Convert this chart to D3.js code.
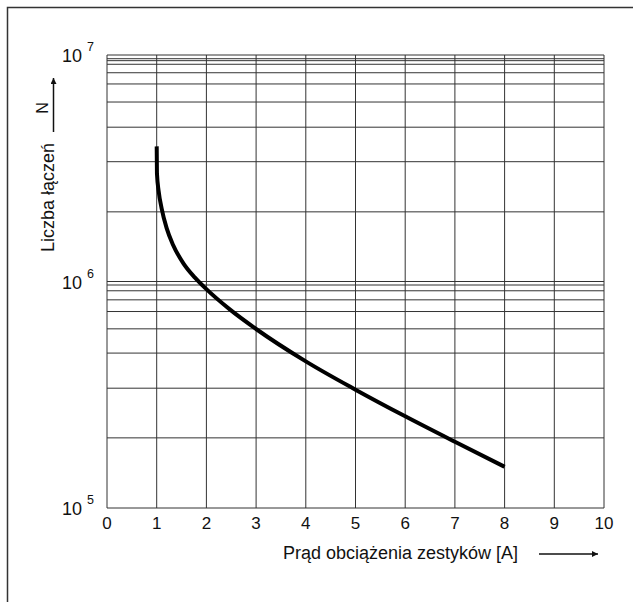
<!DOCTYPE html>
<html>
<head>
<meta charset="utf-8">
<script src="https://cdn.jsdelivr.net/npm/d3@7"></script>
<style>
  body { margin: 0; background: #fff; }
  text { font-family: Arial, "Liberation Sans", sans-serif; fill: #111; }
</style>
</head>
<body>
<script>
// ----- data -----
const currentA = [1.0, 1.005, 1.04, 1.1, 1.2, 1.33, 1.54, 1.77, 2.0, 2.47, 3, 4, 5, 6, 7, 8];
const cycles = [3.95e6, 3.0e6, 2.5e6, 2.1e6, 1.72e6, 1.45e6, 1.2e6, 1.04e6, 9.25e5, 7.53e5, 6.17e5, 4.44e5, 3.33e5, 2.54e5, 1.96e5, 1.52e5];

const xTicks = [0, 1, 2, 3, 4, 5, 6, 7, 8, 9, 10];
// horizontal rulings of the (irregular) log paper
const yGrid = [1e7, 9.63e6, 9.44e6, 9.1e6, 8.35e6, 7.45e6, 6.2e6, 4.8e6, 3.38e6, 2.03e6,
               1e6, 9.65e5, 9.1e5, 8.3e5, 7.37e5, 6.18e5, 4.83e5, 3.38e5, 2.04e5, 1e5];
const decades = [1e7, 1e6, 1e5];
const decadeExp = ['7', '6', '5'];

const xTitle = 'Prąd obciążenia zestyków [A]';
const yTitle = 'Liczba łączeń';
const yUnit = 'N';

// ----- svg -----
const W = 633, H = 602;
const svg = d3.select('body')
  .append('svg')
  .attr('width', W)
  .attr('height', H);

svg.append('defs').append('marker')
  .attr('id', 'arr')
  .attr('viewBox', '0 0 10 10')
  .attr('refX', 10).attr('refY', 5)
  .attr('markerWidth', 8).attr('markerHeight', 6)
  .attr('markerUnits', 'userSpaceOnUse')
  .attr('orient', 'auto')
  .append('path')
  .attr('d', 'M0,0 L10,5 L0,10 z')
  .attr('fill', '#111');

// outer frame (left + top only)
svg.append('path')
  .attr('d', 'M7.5,602 V7.5 H633')
  .attr('fill', 'none')
  .attr('stroke', '#333')
  .attr('stroke-width', 1.5);

// ----- scales -----
const x = d3.scaleLinear().domain([0, 10]).range([107, 604]);
const y = d3.scaleLog().domain([1e5, 1e7]).range([508, 55]);

// ----- grid -----
svg.append('g')
  .selectAll('line')
  .data(xTicks)
  .join('line')
  .attr('x1', d => x(d)).attr('x2', d => x(d))
  .attr('y1', y(1e7)).attr('y2', y(1e5))
  .attr('stroke', '#333')
  .attr('stroke-width', 1);

svg.append('g')
  .selectAll('line')
  .data(yGrid)
  .join('line')
  .attr('x1', x(0)).attr('x2', x(10))
  .attr('y1', d => y(d)).attr('y2', d => y(d))
  .attr('stroke', '#333')
  .attr('stroke-width', 1);

// ----- tick labels -----
svg.append('g')
  .selectAll('text')
  .data(xTicks)
  .join('text')
  .attr('x', d => x(d))
  .attr('y', 529)
  .attr('text-anchor', 'middle')
  .attr('font-size', 17)
  .text(d => d);

const pow = svg.append('g')
  .selectAll('g')
  .data(decades)
  .join('g')
  .attr('transform', d => `translate(0, ${y(d) + 7})`);
pow.append('text')
  .attr('x', 82)
  .attr('text-anchor', 'end')
  .attr('font-size', 18)
  .text('10');
pow.append('text')
  .attr('x', 87)
  .attr('y', -11)
  .attr('font-size', 12.5)
  .text((d, i) => decadeExp[i]);

// ----- curve -----
const line = d3.line()
  .x((d, i) => x(currentA[i]))
  .y(d => y(d))
  .curve(d3.curveMonotoneX);

svg.append('path')
  .datum(cycles)
  .attr('d', line)
  .attr('fill', 'none')
  .attr('stroke', '#000')
  .attr('stroke-width', 4);

// ----- axis titles -----
svg.append('text')
  .attr('x', 283)
  .attr('y', 559)
  .attr('font-size', 18)
  .text(xTitle);

svg.append('line')
  .attr('x1', 539).attr('x2', 598)
  .attr('y1', 554).attr('y2', 554)
  .attr('stroke', '#111')
  .attr('stroke-width', 1.5)
  .attr('marker-end', 'url(#arr)');

svg.append('text')
  .attr('transform', 'translate(53.5, 252) rotate(-90)')
  .attr('font-size', 18)
  .text(yTitle);

svg.append('text')
  .attr('transform', 'translate(47.5, 108) rotate(-90)')
  .attr('text-anchor', 'middle')
  .attr('font-size', 16)
  .text(yUnit);

svg.append('line')
  .attr('x1', 53.5).attr('x2', 53.5)
  .attr('y1', 132).attr('y2', 78)
  .attr('stroke', '#111')
  .attr('stroke-width', 1.5)
  .attr('marker-end', 'url(#arr)');
</script>
</body>
</html>
